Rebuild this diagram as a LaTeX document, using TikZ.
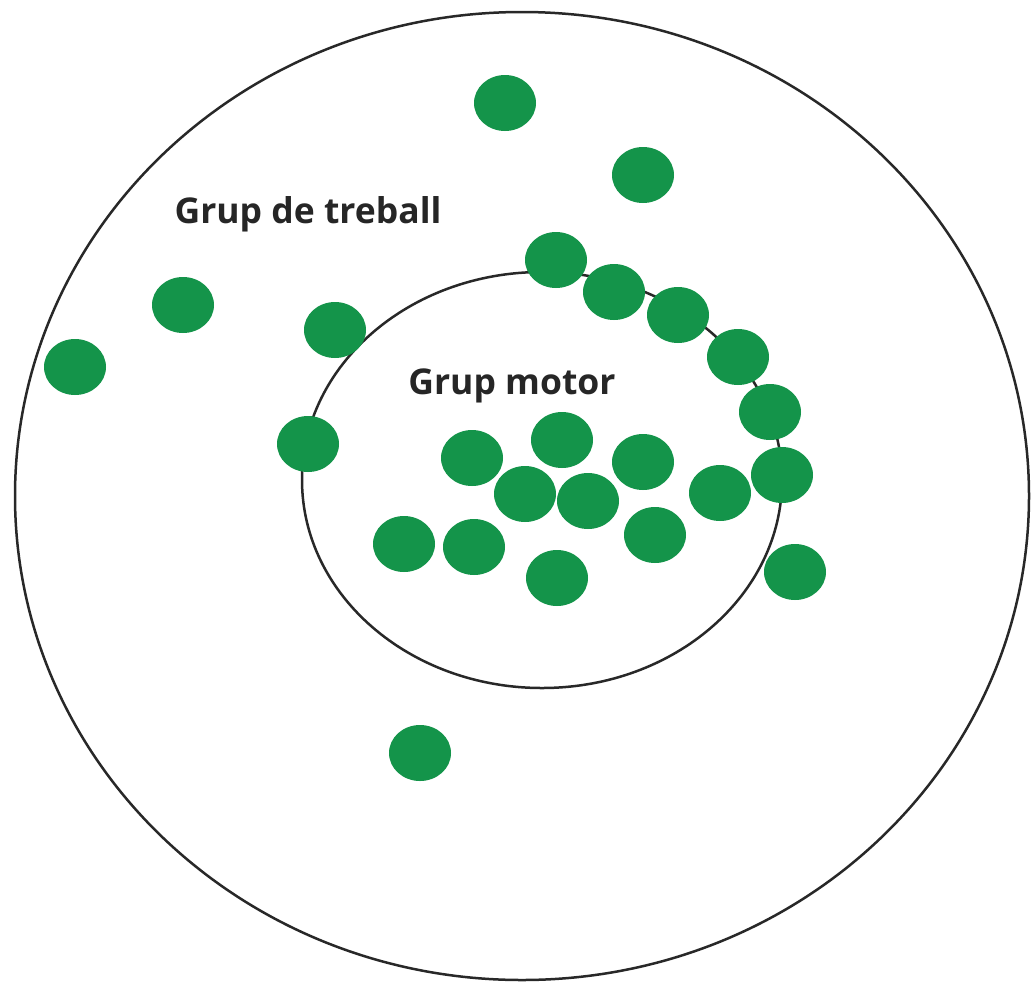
\documentclass[tikz,border=0pt]{standalone}
\usepackage{fontspec}
\setmainfont{Open Sans}
\definecolor{dotgreen}{RGB}{20,148,74}
\definecolor{ringgray}{RGB}{40,40,40}
\begin{document}
\begin{tikzpicture}[x=1pt,y=-1pt,
  ring/.style={draw=ringgray,line width=2.5pt},
  member/.style={fill=dotgreen,draw=none},
  lbl/.style={font=\bfseries\fontsize{35.5}{40}\selectfont,text=black!85,inner sep=0pt}]
\useasboundingbox[fill=white] (0,0) rectangle (1033,983);
\draw[ring] (522,496) ellipse [x radius=507,y radius=484];
\draw[ring] (542,480) ellipse [x radius=240,y radius=208];
\node[lbl] (treball) at (308,214) {Grup de treball};
\node[lbl] (motor) at (512,386) {Grup motor};
\foreach \x/\y in {505/103,643/175,183/305,75/367,335/330,308/444,
  556/260,614/292,678/315,738/357,770/412,782/475,720/493,795/572,
  472/458,562/440,643/462,525/494,588/501,404/544,474/547,655/535,
  557/578,420/753}
  \fill[member] (\x,\y) ellipse [x radius=31,y radius=28];
\end{tikzpicture}
\end{document}
